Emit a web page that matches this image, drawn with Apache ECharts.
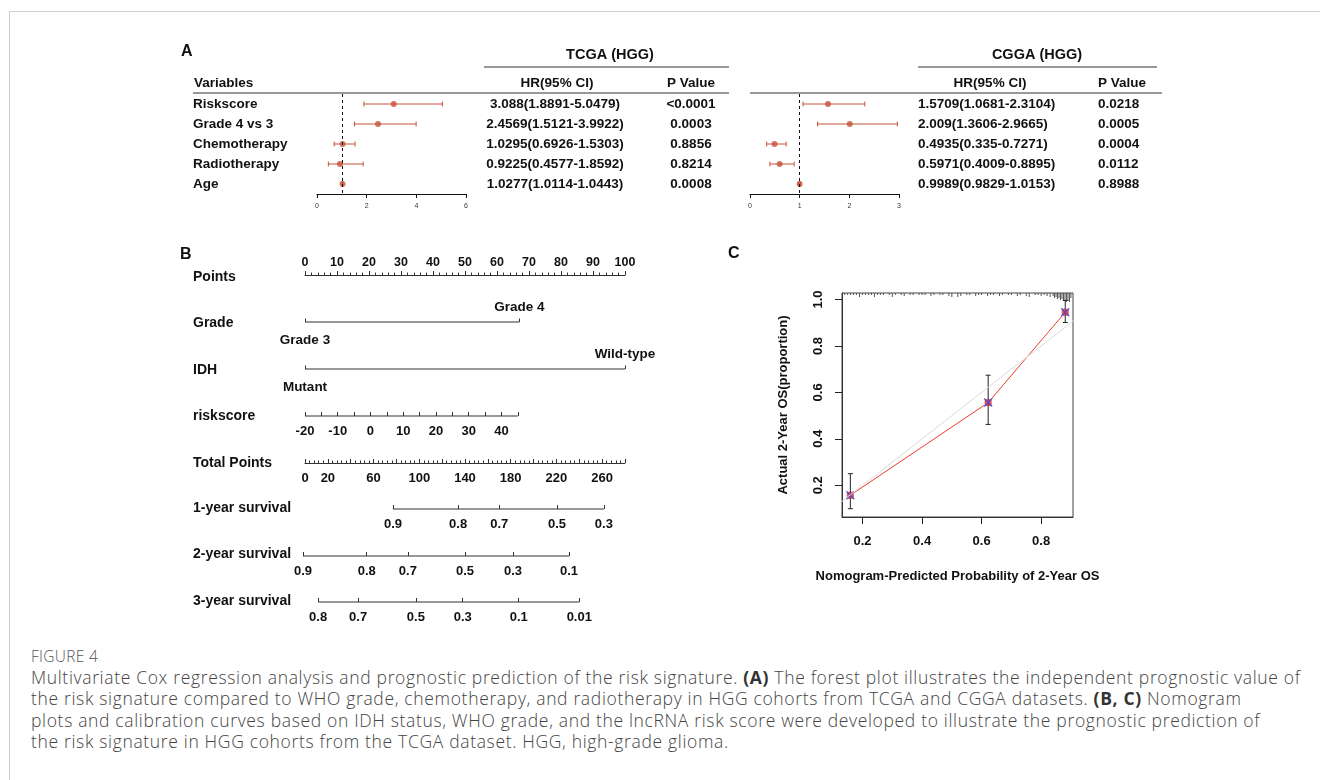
<!DOCTYPE html>
<html>
<head>
<meta charset="utf-8">
<script src="https://cdn.jsdelivr.net/npm/echarts@6/dist/echarts.min.js"></script>
<style>
  html, body { margin: 0; padding: 0; background: #fff; }
  #frame { position: absolute; left: 9px; top: 11px; right: 0; bottom: 0; border-top: 1px solid #cfcfcf; border-left: 1px solid #cfcfcf; }
  #chart { position: absolute; left: 0; top: 0; width: 1320px; height: 640px; }
  #caption { position: absolute; left: 31px; top: 645px; font-family: 'Open Sans', sans-serif; color: #444; font-size: 17.5px; font-weight: 300; letter-spacing: 0.66px; white-space: nowrap; }
  #caption .fig { font-size: 15.5px; letter-spacing: 0.3px; line-height: 22px; color: #555; text-transform: uppercase; }
  #caption .txt { line-height: 21.3px; }
  #caption b { font-weight: 700; color: #333; }
</style>
</head>
<body>
<div id="frame"></div>
<div id="chart"></div>
<div id="caption">
  <div class="fig">FIGURE 4</div>
  <div class="txt">Multivariate Cox regression analysis and prognostic prediction of the risk signature. <b>(A)</b> The forest plot illustrates the independent prognostic value of<br>the risk signature compared to WHO grade, chemotherapy, and radiotherapy in HGG cohorts from TCGA and CGGA datasets. <b>(B, C)</b> Nomogram<br>plots and calibration curves based on IDH status, WHO grade, and the lncRNA risk score were developed to illustrate the prognostic prediction of<br>the risk signature in HGG cohorts from the TCGA dataset. HGG, high-grade glioma.</div>
</div>
<script>
// forest plot (A)
var variables = ['Riskscore', 'Grade 4 vs 3', 'Chemotherapy', 'Radiotherapy', 'Age']
var tcgaHR = [3.088, 2.4569, 1.0295, 0.9225, 1.0277]
var tcgaLow = [1.8891, 1.5121, 0.6926, 0.4577, 1.0114]
var tcgaHigh = [5.0479, 3.9922, 1.5303, 1.8592, 1.0443]
var tcgaP = ['<0.0001', '0.0003', '0.8856', '0.8214', '0.0008']
var cggaHR = [1.5709, 2.009, 0.4935, 0.5971, 0.9989]
var cggaLow = [1.0681, 1.3606, 0.335, 0.4009, 0.9829]
var cggaHigh = [2.3104, 2.9665, 0.7271, 0.8895, 1.0153]
var cggaP = ['0.0218', '0.0005', '0.0004', '0.0112', '0.8988']

// nomogram (B)
var gradeLevels = ['Grade 3', 'Grade 4']
var gradePoints = [0, 67]
var idhLevels = ['Mutant', 'Wild-type']
var idhPoints = [0, 100]
var riskscoreTicks = [-20, -15, -10, -5, 0, 5, 10, 15, 20, 25, 30, 35, 40, 45]
var riskscoreLabels = [-20, -10, 0, 10, 20, 30, 40]
var riskscoreMaxPoints = 66.5 // points given to riskscore 45
var totalTicks = [0, 20, 40, 60, 80, 100, 120, 140, 160, 180, 200, 220, 240, 260, 280]
var totalLabels = [0, 20, 60, 100, 140, 180, 220, 260]
var surv1Prob = ['0.9', '0.8', '0.7', '0.5', '0.3']
var surv1Total = [77, 134, 170, 220.5, 261.5]
var surv2Prob = ['0.9', '0.8', '0.7', '0.5', '0.3', '0.1']
var surv2Total = [-1.75, 54, 90, 140, 182, 231]
var surv3Prob = ['0.8', '0.7', '0.5', '0.3', '0.1', '0.01']
var surv3Total = [11.5, 46.5, 97, 138, 187, 240]

// calibration (C)
var calPred = [0.159, 0.622, 0.881]
var calObs = [0.157, 0.556, 0.945]
var calLow = [0.099, 0.462, 0.901]
var calHigh = [0.25, 0.674, 0.996]
var calTicksX = [0.2, 0.4, 0.6, 0.8]
var calTicksY = [0.2, 0.4, 0.6, 0.8, 1.0]
var idealDiag = [0, 1]
var rugX = [0.14, 0.15, 0.16, 0.17, 0.18, 0.19, 0.2, 0.21, 0.22, 0.23, 0.24, 0.25, 0.26, 0.27, 0.29, 0.3,
  0.31, 0.33, 0.34, 0.36, 0.37, 0.39, 0.4, 0.41, 0.43, 0.44, 0.46, 0.47, 0.49, 0.5, 0.52, 0.53, 0.55,
  0.56, 0.58, 0.59, 0.6, 0.62, 0.63, 0.64, 0.66, 0.67, 0.69, 0.7, 0.72, 0.73, 0.75, 0.76, 0.78, 0.79,
  0.8, 0.81, 0.82, 0.83, 0.84, 0.845, 0.85, 0.855, 0.86, 0.865, 0.87, 0.875, 0.88, 0.885, 0.89, 0.895, 0.9]
var rugFreq = [2, 2, 2, 2, 2, 4, 2, 2, 2, 2, 4, 2, 2, 2, 2, 4,
  2, 2, 3, 2, 2, 2, 2, 2, 3, 2, 2, 2, 3, 4, 4, 3, 2,
  2, 3, 2, 2, 3, 2, 2, 3, 2, 2, 2, 3, 2, 3, 4, 2, 2,
  3, 2, 3, 4, 3, 5, 4, 6, 5, 7, 6, 8, 7, 9, 8, 9, 5]

// plot ranges of the calibration panel
var calXRange = [0.131, 0.907]
var calYRange = [0.0634, 1.028]

var FONT = '"Liberation Sans", Arial, Helvetica, sans-serif'
var INK = '#111'
var LINE = '#333'
var RED = '#c4533a'

function hrText(hr, lo, hi) {
  return hr.map(function (v, i) { return v + '(' + lo[i] + '-' + hi[i] + ')' })
}

function rows(arr) {
  return arr.map(function (v, i) { return [v, i] })
}

// horizontal CI with caps
function hBar(color) {
  return function (params, api) {
    var row = api.value(2)
    var a = api.coord([api.value(0), row])
    var b = api.coord([api.value(1), row])
    var st = { stroke: color, lineWidth: 1 }
    return {
      type: 'group',
      children: [
        { type: 'line', shape: { x1: a[0], y1: a[1], x2: b[0], y2: b[1] }, style: st },
        { type: 'line', shape: { x1: a[0], y1: a[1] - 2.5, x2: a[0], y2: a[1] + 2.5 }, style: st },
        { type: 'line', shape: { x1: b[0], y1: b[1] - 2.5, x2: b[0], y2: b[1] + 2.5 }, style: st },
      ],
    }
  }
}

// vertical CI with caps
function vBar(params, api) {
  var a = api.coord([api.value(0), api.value(1)])
  var b = api.coord([api.value(0), api.value(2)])
  var st = { stroke: '#222', lineWidth: 1 }
  return {
    type: 'group',
    children: [
      { type: 'line', shape: { x1: a[0], y1: a[1], x2: b[0], y2: b[1] }, style: st },
      { type: 'line', shape: { x1: a[0] - 2.5, y1: a[1], x2: a[0] + 2.5, y2: a[1] }, style: st },
      { type: 'line', shape: { x1: b[0] - 2.5, y1: b[1], x2: b[0] + 2.5, y2: b[1] }, style: st },
    ],
  }
}

// segment between calibration points, with small gaps (R type "b")
function segGap(params, api) {
  var a = api.coord([api.value(0), api.value(1)])
  var b = api.coord([api.value(2), api.value(3)])
  var dx = b[0] - a[0], dy = b[1] - a[1]
  var len = Math.sqrt(dx * dx + dy * dy)
  var g = 5 / len
  return {
    type: 'line',
    shape: { x1: a[0] + dx * g, y1: a[1] + dy * g, x2: b[0] - dx * g, y2: b[1] - dy * g },
    style: { stroke: '#ee3b2b', lineWidth: 1 },
  }
}

function rugItem(params, api) {
  var a = api.coord([api.value(0), 0])
  var b = api.coord([api.value(0), api.value(1)])
  return {
    type: 'line',
    shape: { x1: a[0], y1: a[1], x2: b[0], y2: b[1] },
    style: { stroke: '#555', lineWidth: 1 },
  }
}

var tickLabel = { fontFamily: FONT, fontWeight: 'bold', fontSize: 13, color: INK }

function forestX(gi, max, interval) {
  return {
    gridIndex: gi, type: 'value', min: 0, max: max, interval: interval,
    axisLine: { show: true, onZero: false, lineStyle: { color: INK, width: 1 } },
    axisTick: { show: true, length: 4, lineStyle: { color: INK } },
    axisLabel: { fontFamily: FONT, fontSize: 7, color: '#333', margin: 9 },
    splitLine: { show: false },
  }
}

function forestY(gi, data, pos, show, align, margin) {
  return {
    gridIndex: gi, type: 'category', data: data, inverse: true, position: pos,
    axisLine: { show: false }, axisTick: { show: false }, splitLine: { show: false },
    axisLabel: {
      show: show, align: align, margin: margin,
      fontFamily: FONT, fontWeight: 'bold', fontSize: 13.5, color: INK,
    },
  }
}

function rowY(gi) {
  return { gridIndex: gi, type: 'value', min: 0, max: 1, show: false }
}

// a nomogram row drawn as a partial line over its own scale
function rowLine(xi, yi, xs) {
  return {
    type: 'line', xAxisIndex: xi, yAxisIndex: yi, silent: true, clip: false,
    symbol: 'none', lineStyle: { color: LINE, width: 1 },
    data: [[xs[0], 0], [xs[xs.length - 1], 0]],
  }
}

function levelLine(xi, yi, xs, names) {
  return {
    type: 'line', xAxisIndex: xi, yAxisIndex: yi, silent: true, clip: false,
    symbol: 'circle', symbolSize: 0, showSymbol: true,
    lineStyle: { color: LINE, width: 1 },
    data: xs.map(function (x, i) {
      return {
        value: [x, 0],
        label: {
          show: true, position: i === 0 ? 'bottom' : 'top', distance: i === 0 ? 11 : 8,
          formatter: names[i], fontFamily: FONT, fontWeight: 'bold', fontSize: 13.5, color: INK,
        },
      }
    }),
  }
}

function survX(gi, totals, probs) {
  return {
    gridIndex: gi, type: 'value', min: -10, max: 280,
    axisLine: { show: false },
    axisTick: { show: true, inside: true, length: 4, customValues: totals, lineStyle: { color: LINE } },
    axisLabel: Object.assign({
      customValues: totals, margin: 9,
      formatter: function (v) { return probs[totals.indexOf(v)] },
    }, tickLabel),
    splitLine: { show: false },
  }
}

function txt(x, y, s, size, align) {
  return {
    type: 'text', x: x, y: y, silent: true,
    style: { text: s, font: 'bold ' + size + 'px ' + FONT, fill: INK, align: align || 'left', verticalAlign: 'middle' },
  }
}

function rule(x1, y, x2) {
  return { type: 'line', silent: true, shape: { x1: x1, y1: y, x2: x2, y2: y }, style: { stroke: LINE, lineWidth: 1 } }
}

var chart = echarts.init(document.getElementById('chart'))

chart.setOption({
  animation: false,
  backgroundColor: 'transparent',
  grid: [
    { left: 317, top: 94, width: 149, height: 100 }, // 0 TCGA forest
    { left: 750, top: 94, width: 149, height: 100 }, // 1 CGGA forest
    { left: 305, top: 275, width: 320, height: 10 }, // 2 Points
    { left: 305, top: 312, width: 320, height: 10 }, // 3 Grade
    { left: 305, top: 359, width: 320, height: 10 }, // 4 IDH
    { left: 305, top: 406, width: 320, height: 10 }, // 5 riskscore
    { left: 305, top: 453, width: 320, height: 10 }, // 6 Total Points
    { left: 293.57, top: 499, width: 331.43, height: 10 }, // 7 1-year
    { left: 293.57, top: 546, width: 331.43, height: 10 }, // 8 2-year
    { left: 293.57, top: 592, width: 331.43, height: 10 }, // 9 3-year
    { left: 842, top: 293, width: 231, height: 224, show: true, borderColor: '#444', borderWidth: 1 }, // 10 calibration
  ],
  xAxis: [
    forestX(0, 6, 2),
    forestX(1, 3, 1),
    {
      gridIndex: 2, type: 'value', position: 'top', min: 0, max: 100, interval: 10,
      axisLine: { show: true, onZero: false, lineStyle: { color: LINE } },
      axisTick: { show: true, length: 4, lineStyle: { color: LINE } },
      minorTick: { show: true, splitNumber: 5, length: 2.5, lineStyle: { color: LINE } },
      axisLabel: Object.assign({ margin: 6 }, tickLabel, { fontSize: 12.5 }),
      splitLine: { show: false }, minorSplitLine: { show: false },
    },
    {
      gridIndex: 3, type: 'value', min: 0, max: 100,
      axisLine: { show: false },
      axisTick: { show: true, inside: true, length: 3.5, customValues: gradePoints, lineStyle: { color: LINE } },
      axisLabel: { show: false }, splitLine: { show: false },
    },
    {
      gridIndex: 4, type: 'value', min: 0, max: 100,
      axisLine: { show: false },
      axisTick: { show: true, inside: true, length: 3.5, customValues: idhPoints, lineStyle: { color: LINE } },
      axisLabel: { show: false }, splitLine: { show: false },
    },
    {
      gridIndex: 5, type: 'value', min: riskscoreTicks[0],
      max: riskscoreTicks[0] + (riskscoreTicks[riskscoreTicks.length - 1] - riskscoreTicks[0]) * 100 / riskscoreMaxPoints,
      axisLine: { show: false },
      axisTick: { show: true, inside: true, length: 4, customValues: riskscoreTicks, lineStyle: { color: LINE } },
      axisLabel: Object.assign({ customValues: riskscoreLabels, margin: 9 }, tickLabel),
      splitLine: { show: false },
    },
    {
      gridIndex: 6, type: 'value', min: 0, max: 280, interval: 20,
      axisLine: { show: true, onZero: false, lineStyle: { color: LINE } },
      axisTick: { show: true, inside: true, length: 4, customValues: totalTicks, lineStyle: { color: LINE } },
      minorTick: { show: true, splitNumber: 5, length: 2.5, lineStyle: { color: LINE } },
      axisLabel: Object.assign({ customValues: totalLabels, margin: 9 }, tickLabel),
      splitLine: { show: false }, minorSplitLine: { show: false },
    },
    survX(7, surv1Total, surv1Prob),
    survX(8, surv2Total, surv2Prob),
    survX(9, surv3Total, surv3Prob),
    {
      gridIndex: 10, type: 'value', min: calXRange[0], max: calXRange[1],
      axisLine: { show: true, onZero: false, lineStyle: { color: '#333' } },
      axisTick: { show: true, length: 7, customValues: calTicksX, lineStyle: { color: '#222' } },
      axisLabel: Object.assign({ customValues: calTicksX, margin: 18, formatter: function (v) { return v.toFixed(1) } }, tickLabel),
      splitLine: { show: false },
      name: 'Nomogram-Predicted Probability of 2-Year OS', nameLocation: 'middle', nameGap: 53,
      nameTextStyle: { fontFamily: FONT, fontWeight: 'bold', fontSize: 13, color: INK },
    },
  ],
  yAxis: [
    forestY(0, variables, 'left', true, 'left', 124),
    forestY(0, hrText(tcgaHR, tcgaLow, tcgaHigh), 'right', true, 'center', 89),
    forestY(0, tcgaP, 'right', true, 'center', 225),
    forestY(1, variables, 'left', false, 'left', 0),
    forestY(1, hrText(cggaHR, cggaLow, cggaHigh), 'right', true, 'left', 19),
    forestY(1, cggaP, 'right', true, 'left', 199),
    rowY(2), rowY(3), rowY(4), rowY(5), rowY(6), rowY(7), rowY(8), rowY(9), // 6..13
    {
      gridIndex: 10, type: 'value', min: calYRange[0], max: calYRange[1], // 14
      axisLine: { show: true, onZero: false, lineStyle: { color: '#333' } },
      axisTick: { show: true, length: 7, customValues: calTicksY, lineStyle: { color: '#222' } },
      axisLabel: Object.assign({ customValues: calTicksY, rotate: 90, margin: 17, formatter: function (v) { return v.toFixed(1) } }, tickLabel),
      splitLine: { show: false },
      name: 'Actual 2-Year OS(proportion)', nameLocation: 'middle', nameGap: 52,
      nameTextStyle: { fontFamily: FONT, fontWeight: 'bold', fontSize: 13, color: INK },
    },
    { gridIndex: 10, type: 'value', min: 0, max: 224, inverse: true, show: false }, // 15 rug
  ],
  series: [
    {
      type: 'custom', xAxisIndex: 0, yAxisIndex: 0, silent: true,
      renderItem: hBar(RED), encode: { x: [0, 1], y: 2 },
      data: tcgaLow.map(function (v, i) { return [v, tcgaHigh[i], i] }),
    },
    {
      type: 'scatter', xAxisIndex: 0, yAxisIndex: 0, silent: true,
      symbolSize: 6, itemStyle: { color: RED }, data: rows(tcgaHR),
      markLine: {
        silent: true, symbol: 'none', label: { show: false },
        lineStyle: { color: INK, width: 1, type: [3, 3] }, data: [{ xAxis: 1 }],
      },
    },
    {
      type: 'custom', xAxisIndex: 1, yAxisIndex: 3, silent: true,
      renderItem: hBar(RED), encode: { x: [0, 1], y: 2 },
      data: cggaLow.map(function (v, i) { return [v, cggaHigh[i], i] }),
    },
    {
      type: 'scatter', xAxisIndex: 1, yAxisIndex: 3, silent: true,
      symbolSize: 6, itemStyle: { color: RED }, data: rows(cggaHR),
      markLine: {
        silent: true, symbol: 'none', label: { show: false },
        lineStyle: { color: INK, width: 1, type: [3, 3] }, data: [{ xAxis: 1 }],
      },
    },
    levelLine(3, 7, gradePoints, gradeLevels),
    levelLine(4, 8, idhPoints, idhLevels),
    rowLine(5, 9, riskscoreTicks),
    rowLine(7, 11, surv1Total),
    rowLine(8, 12, surv2Total),
    rowLine(9, 13, surv3Total),
    {
      type: 'line', xAxisIndex: 10, yAxisIndex: 14, silent: true, symbol: 'none',
      lineStyle: { color: '#dcdcdc', width: 1 },
      data: idealDiag.map(function (v) { return [v, v] }),
    },
    {
      type: 'custom', xAxisIndex: 10, yAxisIndex: 15, silent: true,
      renderItem: rugItem, encode: { x: 0, y: 1 },
      data: rugX.map(function (v, i) { return [v, rugFreq[i]] }),
    },
    {
      type: 'custom', xAxisIndex: 10, yAxisIndex: 14, silent: true,
      renderItem: segGap, encode: { x: [0, 2], y: [1, 3] },
      data: calPred.slice(1).map(function (v, i) { return [calPred[i], calObs[i], v, calObs[i + 1]] }),
    },
    {
      type: 'custom', xAxisIndex: 10, yAxisIndex: 14, silent: true,
      renderItem: vBar, encode: { x: 0, y: [1, 2] },
      data: calPred.map(function (v, i) { return [v, calLow[i], calHigh[i]] }),
    },
    {
      type: 'scatter', xAxisIndex: 10, yAxisIndex: 14, silent: true,
      symbol: 'rect', symbolSize: 7, itemStyle: { color: '#e5232f' },
      data: calPred.map(function (v, i) { return [v, calObs[i]] }),
    },
    {
      type: 'scatter', xAxisIndex: 10, yAxisIndex: 14, silent: true,
      symbol: 'path://M0,0L10,10M10,0L0,10', symbolSize: 8,
      itemStyle: { color: 'none', borderColor: '#3550dd', borderWidth: 1.4 },
      data: calPred.map(function (v, i) { return [v, calObs[i]] }),
    },
  ],
  graphic: [
    txt(181, 52, 'A', 16), txt(180, 255, 'B', 16), txt(728, 254, 'C', 16),
    txt(610, 55, 'TCGA (HGG)', 14.5, 'center'),
    txt(1037, 55, 'CGGA (HGG)', 14.5, 'center'),
    txt(194, 83, 'Variables', 13.5),
    txt(557, 83, 'HR(95% CI)', 13.5, 'center'),
    txt(691, 83, 'P Value', 13.5, 'center'),
    txt(990, 83, 'HR(95% CI)', 13.5, 'center'),
    txt(1122, 83, 'P Value', 13.5, 'center'),
    rule(484, 67, 729), rule(918, 67, 1157), rule(193, 93, 729), rule(750, 93, 1162),
    txt(193, 277, 'Points', 14),
    txt(193, 323, 'Grade', 14),
    txt(193, 370, 'IDH', 14),
    txt(193, 416, 'riskscore', 14),
    txt(193, 463, 'Total Points', 14),
    txt(193, 508, '1-year survival', 14),
    txt(193, 554, '2-year survival', 14),
    txt(193, 601, '3-year survival', 14),
  ],
})
</script>
</body>
</html>
